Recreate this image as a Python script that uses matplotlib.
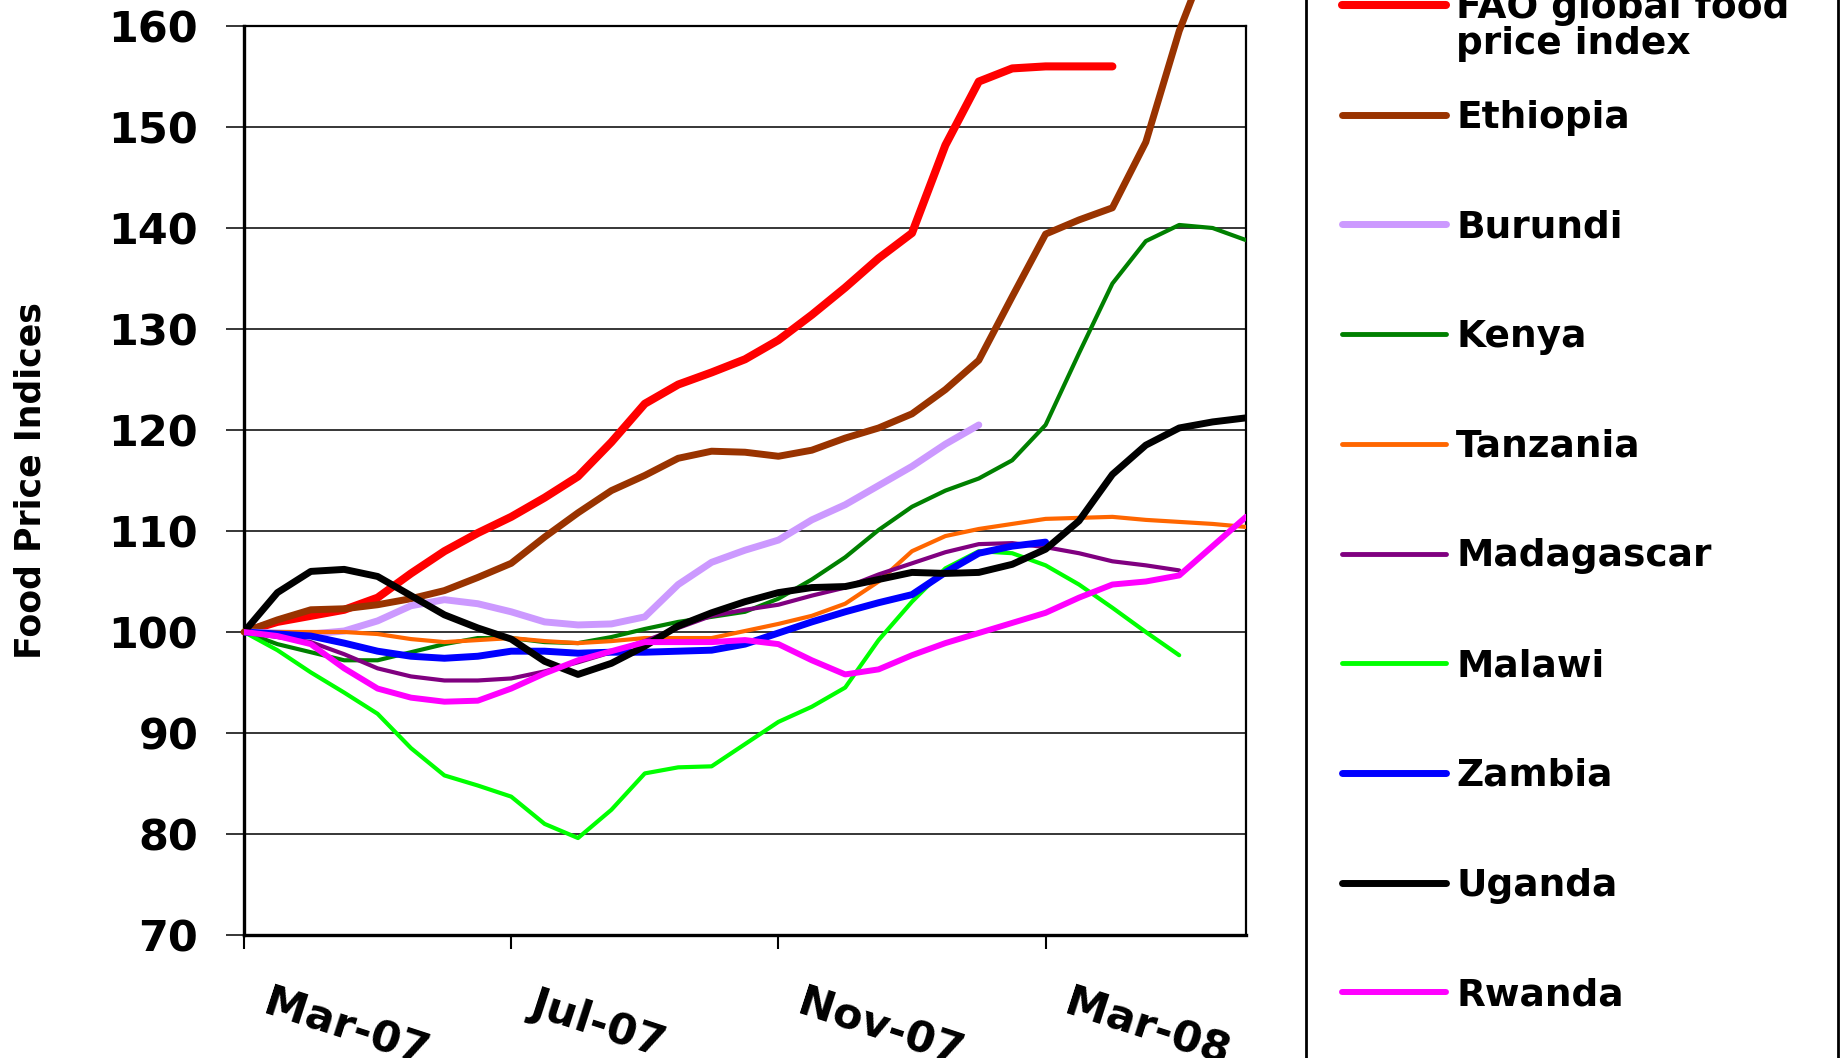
import numpy as np
import matplotlib
matplotlib.use("Agg")
import matplotlib.pyplot as plt
from matplotlib.lines import Line2D
from matplotlib.patches import Rectangle
from matplotlib.transforms import ScaledTranslation

plt.rcParams['font.family'] = ['DejaVu Sans']

# months since Mar-07, sampled every half month
step = 0.5

fao = [100, 101.0, 101.6, 102.2, 103.4, 105.8, 108.0, 109.8, 111.4, 113.3,
       115.4, 118.8, 122.6, 124.5, 125.7, 127.0, 128.9, 131.4, 134.1, 137.0,
       139.5, 148.2, 154.5, 155.8, 156.0, 156.0, 156.0]
ethiopia = [100, 101.2, 102.2, 102.3, 102.7, 103.3, 104.1, 105.4, 106.8, 109.4,
            111.8, 114.0, 115.5, 117.2, 117.9, 117.8, 117.4, 118.0, 119.2, 120.2,
            121.6, 124.0, 126.9, 133.2, 139.4, 140.8, 142.0, 148.5, 159.5, 168.0]
burundi = [100, 99.9, 99.8, 100.1, 101.1, 102.6, 103.2, 102.8, 102.0, 101.0,
           100.7, 100.8, 101.5, 104.7, 106.9, 108.1, 109.1, 111.1, 112.6, 114.5,
           116.4, 118.6, 120.5]
kenya = [100, 98.8, 98.0, 97.2, 97.2, 98.0, 98.8, 99.4, 99.4, 99.0,
         98.9, 99.5, 100.3, 101.0, 101.5, 102.0, 103.3, 105.2, 107.4, 110.1,
         112.4, 114.0, 115.2, 117.0, 120.5, 127.6, 134.5, 138.7, 140.3, 140.0, 138.8]
tanzania = [100, 100, 100, 100, 99.8, 99.3, 99.0, 99.2, 99.4, 99.1,
            98.9, 99.1, 99.4, 99.4, 99.4, 100.1, 100.8, 101.6, 102.8, 105.0,
            108.0, 109.5, 110.2, 110.7, 111.2, 111.3, 111.4, 111.1, 110.9, 110.7, 110.4]
madagascar = [100, 99.5, 99.0, 97.8, 96.4, 95.6, 95.2, 95.2, 95.4, 96.1,
              97.0, 98.0, 99.1, 100.4, 101.6, 102.2, 102.7, 103.6, 104.4, 105.7,
              106.8, 107.9, 108.7, 108.8, 108.4, 107.8, 107.0, 106.6, 106.1]
malawi = [100, 98.2, 96.0, 94.0, 91.9, 88.5, 85.8, 84.8, 83.7, 81.0,
          79.6, 82.4, 86.0, 86.6, 86.7, 88.9, 91.1, 92.6, 94.5, 99.2,
          103.0, 106.3, 108.0, 107.8, 106.6, 104.7, 102.4, 100.0, 97.7]
zambia = [100, 99.8, 99.6, 98.9, 98.1, 97.6, 97.4, 97.6, 98.1, 98.1,
          97.9, 98.0, 98.0, 98.1, 98.2, 98.8, 99.9, 101.0, 102.0, 102.9,
          103.7, 105.9, 107.8, 108.5, 108.9]
uganda = [100, 103.9, 106.0, 106.2, 105.5, 103.6, 101.7, 100.4, 99.3, 97.1,
          95.8, 96.9, 98.6, 100.6, 101.9, 103.0, 103.9, 104.4, 104.5, 105.2,
          105.9, 105.8, 105.9, 106.7, 108.2, 111.0, 115.6, 118.5, 120.2, 120.8, 121.2]
rwanda = [100, 99.6, 98.8, 96.4, 94.4, 93.5, 93.1, 93.2, 94.4, 95.9,
          97.2, 98.1, 99.0, 99.0, 99.0, 99.2, 98.8, 97.2, 95.8, 96.3,
          97.7, 98.9, 99.9, 100.9, 101.9, 103.4, 104.7, 105.0, 105.6, 108.5, 111.4]

names = ["FAO global food\nprice index", "Ethiopia", "Burundi", "Kenya", "Tanzania",
         "Madagascar", "Malawi", "Zambia", "Uganda", "Rwanda"]
series = [fao, ethiopia, burundi, kenya, tanzania, madagascar, malawi, zambia, uganda, rwanda]
colors = ["#FF0000", "#993300", "#CC99FF", "#008000", "#FF6600",
          "#800080", "#00FF00", "#0000FF", "#000000", "#FF00FF"]
widths = [5.8, 5.0, 5.0, 3.0, 3.0, 3.0, 3.0, 5.0, 5.0, 4.3]

tick_months = [0, 4, 8, 12]
tick_labels = ["Mar-07", "Jul-07", "Nov-07", "Mar-08"]

fig = plt.figure(figsize=(18.41, 10.58), dpi=100)
ax = fig.add_axes([244/1841, 1 - 935/1058, 1002/1841, 909/1058])

for vals, c, lw, name in zip(series, colors, widths, names):
    x = np.arange(len(vals)) * step
    # Ethiopia runs off the top of the chart
    ax.plot(x, vals, color=c, lw=lw, solid_capstyle='round', solid_joinstyle='round',
            clip_on=(name != "Ethiopia"), zorder=3)

ax.set_xlim(0, 15)
ax.set_ylim(70, 160)
ax.set_yticks(np.arange(70, 161, 10))
ax.yaxis.grid(True, color='black', lw=1.1)
ax.set_axisbelow(True)

ax.set_xticks(tick_months)
ax.set_xticklabels(tick_labels, rotation=-18, ha='left', va='top',
                   rotation_mode='anchor', fontsize=31, fontweight='bold')

ax.tick_params(axis='y', length=13, width=1.1, pad=20, labelsize=31)
ax.tick_params(axis='x', length=10, width=1.5, pad=24)
for t in ax.get_yticklabels():
    t.set_fontweight('bold')
# shift the slanted month labels to the right of their ticks
for lbl in ax.get_xticklabels():
    lbl.set_transform(lbl.get_transform() + ScaledTranslation(0.27, 0, fig.dpi_scale_trans))

ax.spines['left'].set_linewidth(2.4)
ax.spines['bottom'].set_linewidth(2.4)
ax.spines['right'].set_linewidth(1.6)
ax.spines['top'].set_linewidth(1.6)

ax.set_ylabel("Food Price Indices", fontsize=25, fontweight='bold')
ax.yaxis.set_label_coords(-0.196, 0.5)

# legend panel on the right
fig.add_artist(Rectangle((1306/1841, -0.05), (1838 - 1306)/1841, 1.1, fill=False,
                         lw=2, edgecolor='black', transform=fig.transFigure))
H = 1058
for i, (name, c, lw) in enumerate(zip(names, colors, widths)):
    yp = 5 + 109.7 * i
    yf = 1 - yp / H
    fig.add_artist(Line2D([1342/1841, 1446/1841], [yf, yf], color=c, lw=max(lw, 3.5),
                          solid_capstyle='round', transform=fig.transFigure))
    for k, line in enumerate(name.split("\n")):
        fig.text(1456/1841, 1 - (yp + 13 + 36 * k) / H, line, fontsize=27,
                 fontweight='bold', ha='left', va='baseline')

fig.savefig("out.png", dpi=100)
